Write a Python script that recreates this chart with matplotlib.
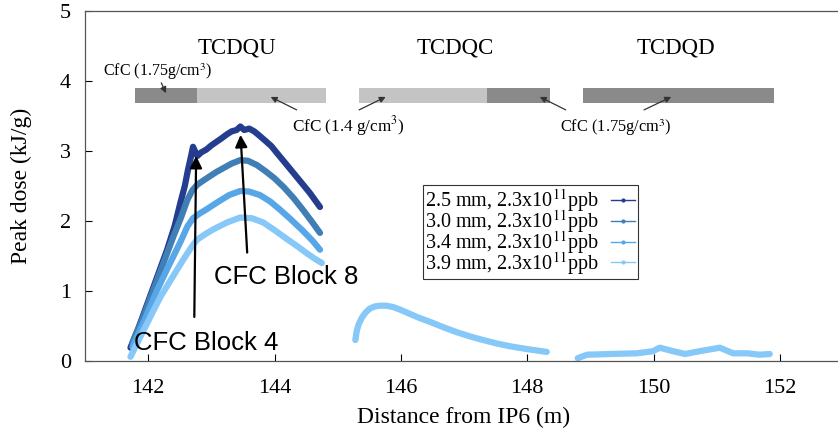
import matplotlib
matplotlib.use('Agg')
import matplotlib.pyplot as plt
from matplotlib.lines import Line2D

# peak dose along TCDQU for the four beam sizes
x_25 = [141.72, 141.85, 142.00, 142.15, 142.30, 142.42, 142.51, 142.58, 142.63, 142.68, 142.71,
        142.74, 142.78, 142.84, 142.92, 143.00, 143.08, 143.16, 143.25, 143.32, 143.40, 143.46,
        143.52, 143.60, 143.68, 143.76, 143.85, 143.95, 144.04, 144.15, 144.26, 144.36, 144.46,
        144.56, 144.64, 144.72]
y_25 = [0.19, 0.48, 0.85, 1.22, 1.59, 1.93, 2.26, 2.50, 2.73, 2.93, 3.06,
        3.00, 2.93, 2.98, 3.02, 3.08, 3.13, 3.18, 3.24, 3.28, 3.30, 3.35,
        3.30, 3.32, 3.28, 3.22, 3.15, 3.07, 2.97, 2.85, 2.73, 2.62, 2.51,
        2.40, 2.30, 2.20]
x_30 = [141.75, 141.90, 142.08, 142.25, 142.40, 142.52, 142.62, 142.70, 142.78, 142.86, 142.96,
        143.08, 143.20, 143.32, 143.46, 143.58, 143.72, 143.86, 144.00, 144.15, 144.30, 144.45,
        144.60, 144.72]
y_30 = [0.26, 0.58, 1.01, 1.42, 1.78, 2.05, 2.30, 2.44, 2.52, 2.57, 2.63,
        2.70, 2.76, 2.82, 2.87, 2.86, 2.80, 2.71, 2.61, 2.48, 2.33, 2.16,
        1.98, 1.83]
x_34 = [141.75, 141.95, 142.14, 142.32, 142.51, 142.62, 142.71, 142.82, 142.93, 143.10, 143.28,
        143.46, 143.60, 143.77, 143.93, 144.09, 144.25, 144.45, 144.60, 144.72]
y_34 = [0.20, 0.60, 1.01, 1.35, 1.70, 1.92, 2.04, 2.11, 2.17, 2.27, 2.37,
        2.43, 2.42, 2.37, 2.28, 2.16, 2.03, 1.86, 1.72, 1.59]
x_39 = [141.72, 141.95, 142.19, 142.38, 142.55, 142.68, 142.77, 142.90, 143.03, 143.25, 143.46,
        143.64, 143.82, 144.00, 144.20, 144.36, 144.51, 144.64, 144.75]
y_39 = [0.06, 0.48, 0.91, 1.19, 1.44, 1.62, 1.73, 1.81, 1.88, 1.98, 2.05,
        2.04, 1.98, 1.87, 1.74, 1.64, 1.54, 1.46, 1.40]

# TCDQC and TCDQD (only the 3.9 mm curve is visible there)
x_tcdqc = [145.28, 145.30, 145.33, 145.39, 145.45, 145.51, 145.59, 145.67, 145.77, 145.88, 146.00,
           146.10, 146.28, 146.46, 146.68, 146.89, 147.10, 147.30, 147.52, 147.73, 148.00, 148.31]
y_tcdqc = [0.30, 0.42, 0.52, 0.63, 0.70, 0.75, 0.78, 0.79, 0.79, 0.77, 0.73,
           0.69, 0.62, 0.56, 0.48, 0.41, 0.35, 0.30, 0.25, 0.21, 0.17, 0.13]
x_tcdqd = [148.80, 148.95, 149.31, 149.74, 149.99, 150.10, 150.31, 150.50, 150.73, 151.05, 151.26,
           151.48, 151.68, 151.84]
y_tcdqd = [0.04, 0.09, 0.10, 0.11, 0.14, 0.19, 0.14, 0.10, 0.14, 0.19, 0.11,
           0.11, 0.09, 0.10]

labels = [r'2.5 mm, 2.3x10$^{11}$ppb', r'3.0 mm, 2.3x10$^{11}$ppb',
          r'3.4 mm, 2.3x10$^{11}$ppb', r'3.9 mm, 2.3x10$^{11}$ppb']
colors = ['#253d8f', '#3f7fb5', '#56a6e8', '#86c8f8']

# jaw blocks: (start, end, density kind)
blocks = [(141.79, 142.78, 'dense'), (142.78, 144.82, 'light'),
          (145.34, 147.36, 'light'), (147.36, 148.36, 'dense'),
          (148.88, 151.90, 'dense')]
block_names = ['TCDQU', 'TCDQC', 'TCDQD']
block_name_x = [143.41, 146.86, 150.35]

plt.rcParams['font.family'] = ['Liberation Serif', 'DejaVu Serif']
plt.rcParams['mathtext.fontset'] = 'stix'

fig = plt.figure(figsize=(8.38, 4.36), dpi=100)
ax = fig.add_axes([85 / 838, 75 / 436, 758 / 838, 350 / 436])

series = [(x_25, y_25), (x_30, y_30), (x_34, y_34), (x_39, y_39)]
for (xs, ys), c in zip(series, colors):
    ax.plot(xs, ys, color=c, lw=4.5, solid_capstyle='round', solid_joinstyle='round')
ax.plot(x_tcdqc, y_tcdqc, color=colors[3], lw=4.5, solid_capstyle='round', solid_joinstyle='round')
ax.plot(x_tcdqd, y_tcdqd, color=colors[3], lw=4.5, solid_capstyle='round', solid_joinstyle='round')

# grey bars for the absorber blocks
for x0, x1, kind in blocks:
    col = '#8a8a8a' if kind == 'dense' else '#c4c4c4'
    ax.fill_between([x0, x1], 3.69, 3.90, color=col, lw=0)

for name, xn in zip(block_names, block_name_x):
    ax.text(xn, 4.47, name, ha='center', va='center', fontsize=16.5)

arr = dict(arrowstyle='-|>', color='#333333', lw=0.9, mutation_scale=9)
ax.text(141.28, 4.13, r'CfC (1.75g/cm$^3$)', fontsize=11.5, va='center')
ax.annotate('', xy=(142.30, 3.79), xytext=(142.19, 4.01), arrowprops=arr)
ax.text(145.16, 3.36, r'CfC (1.4 g/cm$^3$)', fontsize=12.3, ha='center', va='center')
ax.annotate('', xy=(143.90, 3.79), xytext=(144.39, 3.57), arrowprops=arr)
ax.annotate('', xy=(145.80, 3.79), xytext=(145.30, 3.57), arrowprops=arr)
ax.text(149.40, 3.33, r'CfC (1.75g/cm$^3$)', fontsize=11.8, ha='center', va='center')
ax.annotate('', xy=(148.16, 3.79), xytext=(148.65, 3.57), arrowprops=arr)
ax.annotate('', xy=(150.32, 3.79), xytext=(149.81, 3.57), arrowprops=arr)

big = dict(arrowstyle='-|>', color='black', lw=1.6, mutation_scale=18)
ax.text(141.77, 0.26, 'CFC Block 4', fontsize=18.5, family='Liberation Sans', va='center')
ax.annotate('', xy=(142.76, 2.97), xytext=(142.73, 0.59), arrowprops=big)
ax.text(143.05, 1.20, 'CFC Block 8', fontsize=18.5, family='Liberation Sans', va='center')
ax.annotate('', xy=(143.46, 3.27), xytext=(143.57, 1.51), arrowprops=big)

handles = [Line2D([], [], color=c, lw=1, marker='.', ms=4) for c in colors]
leg = ax.legend(handles, labels, loc='upper left', bbox_to_anchor=(0.446, 0.503),
                fontsize=14.5, markerfirst=False, handlelength=1.2,
                labelspacing=-0.3, borderpad=0.12, handletextpad=0.6,
                borderaxespad=0, fancybox=False, framealpha=1)
leg.get_frame().set_edgecolor('#333333')
leg.get_frame().set_linewidth(0.8)

ax.set_xlim(141, 153)
ax.set_ylim(0, 5)
ax.set_xticks([142, 144, 146, 148, 150, 152])
ax.set_yticks([0, 1, 2, 3, 4, 5])
ax.tick_params(direction='in', length=5, labelsize=16, pad=10)
ax.tick_params(axis='x', pad=13)
for s in ax.spines.values():
    s.set_color('#555555')
    s.set_linewidth(0.9)
ax.set_xlabel('Distance from IP6 (m)', fontsize=17, labelpad=6)
ax.set_ylabel('Peak dose (kJ/g)', fontsize=17, labelpad=20)

fig.savefig('out.png', dpi=100)
